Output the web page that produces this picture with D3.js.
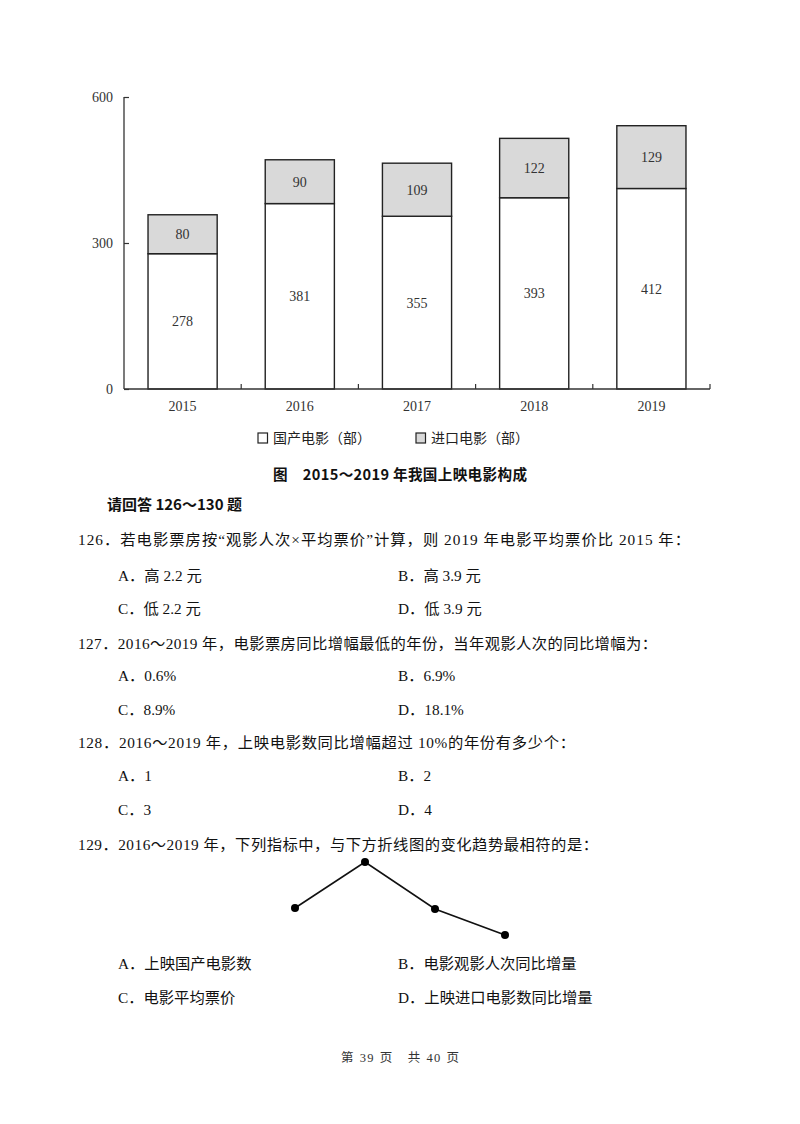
<!DOCTYPE html>
<html><head><meta charset="utf-8">
<script src="https://cdn.jsdelivr.net/npm/d3@7"></script>
<style>html,body{margin:0;padding:0;background:#fff;} svg{display:block;}</style>
</head><body><svg id="c" width="800" height="1124"></svg>
<script>
// ---- data ----
const years = ["2015","2016","2017","2018","2019"];
const domestic = [278,381,355,393,412];
const imported = [80,90,109,122,129];
const yTicks = [0,300,600];
const seriesNames = ["国产电影（部）","进口电影（部）"];
const chartTitle = "图　2015～2019 年我国上映电影构成";
const trendYears = ["2016","2017","2018","2019"];
const trendValues = [52,98,51,25];

const lead = "请回答 126～130 题";
const q126 = "126．若电影票房按“观影人次×平均票价”计算，则 2019 年电影平均票价比 2015 年：";
const o126 = ["A．高 2.2 元","B．高 3.9 元","C．低 2.2 元","D．低 3.9 元"];
const q127 = "127．2016～2019 年，电影票房同比增幅最低的年份，当年观影人次的同比增幅为：";
const o127 = ["A．0.6%","B．6.9%","C．8.9%","D．18.1%"];
const q128 = "128．2016～2019 年，上映电影数同比增幅超过 10%的年份有多少个：";
const o128 = ["A．1","B．2","C．3","D．4"];
const q129 = "129．2016～2019 年，下列指标中，与下方折线图的变化趋势最相符的是：";
const o129 = ["A．上映国产电影数","B．电影观影人次同比增量","C．电影平均票价","D．上映进口电影数同比增量"];
const footer = "第 39 页　共 40 页";

// ---- chart ----
const svg = d3.select("#c");
const serif = "'Liberation Serif','Noto Sans CJK SC',serif";
const body = "'Liberation Serif','Noto Sans CJK SC',serif";
const sans = "'Noto Sans CJK SC',sans-serif";

const x0 = 124, x1 = 710, yb = 389, yt = 97;
const x = d3.scaleBand().domain(years).range([x0, x1]).paddingInner(0.41).paddingOuter(0.205);
const y = d3.scaleLinear().domain([0, 600]).range([yb, yt]);
const step = x.step();

const rows = years.map((yr, i) => ({yr, d: domestic[i], m: imported[i]}));
const g = svg.append("g");

g.selectAll("rect.dom").data(rows).join("rect")
  .attr("x", r => x(r.yr)).attr("width", x.bandwidth())
  .attr("y", r => y(r.d)).attr("height", r => y(0) - y(r.d))
  .attr("fill", "#fff").attr("stroke", "#222").attr("stroke-width", 1.4);
g.selectAll("rect.imp").data(rows).join("rect")
  .attr("x", r => x(r.yr)).attr("width", x.bandwidth())
  .attr("y", r => y(r.d + r.m)).attr("height", r => y(r.d) - y(r.d + r.m))
  .attr("fill", "#d9d9d9").attr("stroke", "#222").attr("stroke-width", 1.4);

g.selectAll("text.dl").data(rows).join("text")
  .attr("x", r => x(r.yr) + x.bandwidth()/2).attr("y", r => (y(0) + y(r.d))/2)
  .attr("dy", "0.35em").attr("text-anchor", "middle")
  .attr("font-family", serif).attr("font-size", 14).attr("fill", "#333")
  .text(r => r.d);
g.selectAll("text.ml").data(rows).join("text")
  .attr("x", r => x(r.yr) + x.bandwidth()/2).attr("y", r => (y(r.d) + y(r.d + r.m))/2)
  .attr("dy", "0.35em").attr("text-anchor", "middle")
  .attr("font-family", serif).attr("font-size", 14).attr("fill", "#333")
  .text(r => r.m);

const yAxis = d3.axisLeft(y).tickValues(yTicks).tickSize(-5).tickPadding(11);
const ya = svg.append("g").attr("transform", `translate(${x0},0)`).call(yAxis);
ya.select(".domain").attr("d", `M0,${yt}V${yb}`).attr("stroke", "#333").attr("stroke-width", 1.3);
ya.selectAll(".tick line").attr("stroke", "#333").attr("stroke-width", 1.2);
ya.selectAll(".tick text").attr("font-family", serif).attr("font-size", 14).attr("fill", "#333");

const xAxis = d3.axisBottom(x).tickSize(0).tickPadding(12);
const xa = svg.append("g").attr("transform", `translate(0,${yb})`).call(xAxis);
xa.select(".domain").attr("d", `M${x0},0H${x1}`).attr("stroke", "#333").attr("stroke-width", 1.3);
xa.selectAll(".tick text").attr("font-family", serif).attr("font-size", 14).attr("fill", "#333");
xa.selectAll("line.bt").data(years).join("line")
  .attr("x1", d => x(d) + x.bandwidth() + (step - x.bandwidth())/2)
  .attr("x2", d => x(d) + x.bandwidth() + (step - x.bandwidth())/2)
  .attr("y1", 0).attr("y2", -5).attr("stroke", "#333").attr("stroke-width", 1.2);

// legend
const legX = [258, 416];
const legFill = ["#fff", "#d9d9d9"];
seriesNames.forEach((n, i) => {
  svg.append("rect").attr("x", legX[i]).attr("y", 433).attr("width", 9.5).attr("height", 10)
    .attr("fill", legFill[i]).attr("stroke", "#222").attr("stroke-width", 1.2);
  svg.append("text").attr("x", legX[i] + 15).attr("y", 438).attr("dy", "0.35em")
    .attr("font-family", sans).attr("font-size", 14).attr("fill", "#222").text(n);
});

// title
svg.append("text").attr("x", 273).attr("y", 475).attr("dy", "0.35em")
  .attr("xml:space", "preserve").style("white-space", "pre")
  .attr("font-family", sans).attr("font-weight", "bold").attr("font-size", 14.6).attr("fill", "#111")
  .attr("textLength", 254).attr("lengthAdjust", "spacing")
  .text(chartTitle);

// ---- page text ----
function line(t, xx, yy, opts = {}) {
  const el = svg.append("text").attr("x", xx).attr("y", yy).attr("dy", "0.35em")
    .attr("xml:space", "preserve").style("white-space", "pre")
    .attr("font-family", opts.ff || body).attr("font-size", opts.fs || 15.3)
    .attr("font-weight", opts.fw || "normal").attr("fill", opts.fill || "#111").text(t);
  if (opts.len) el.attr("textLength", opts.len).attr("lengthAdjust", "spacing");
  return el;
}
line(lead, 107, 505, {ff: sans, fw: "bold", fs: 15});
const qs = [
  {q: q126, o: o126, yq: 540, yo: [576, 609], len: 612},
  {q: q127, o: o127, yq: 644, yo: [676, 710], len: 579},
  {q: q128, o: o128, yq: 743, yo: [776, 810], len: 497},
  {q: q129, o: o129, yq: 845, yo: [964, 998], len: 520}
];
qs.forEach(b => {
  line(b.q, 78, b.yq, {len: b.len});
  b.o.forEach((t, i) => line(t, i % 2 === 0 ? 118 : 398, b.yo[Math.floor(i/2)]));
});

// trend line mini chart
const tx = d3.scalePoint().domain(trendYears).range([295, 505]);
const ty = d3.scaleLinear().domain([0, 100]).range([960, 860]);
svg.append("path").datum(trendValues)
  .attr("d", d3.line().x((v, i) => tx(trendYears[i])).y(v => ty(v)))
  .attr("fill", "none").attr("stroke", "#111").attr("stroke-width", 1.6);
svg.selectAll("circle.tp").data(trendValues).join("circle")
  .attr("cx", (v, i) => tx(trendYears[i])).attr("cy", v => ty(v)).attr("r", 4).attr("fill", "#000");

line(footer, 341, 1058, {fs: 12.5, fill: "#333", len: 118});
</script></body></html>
